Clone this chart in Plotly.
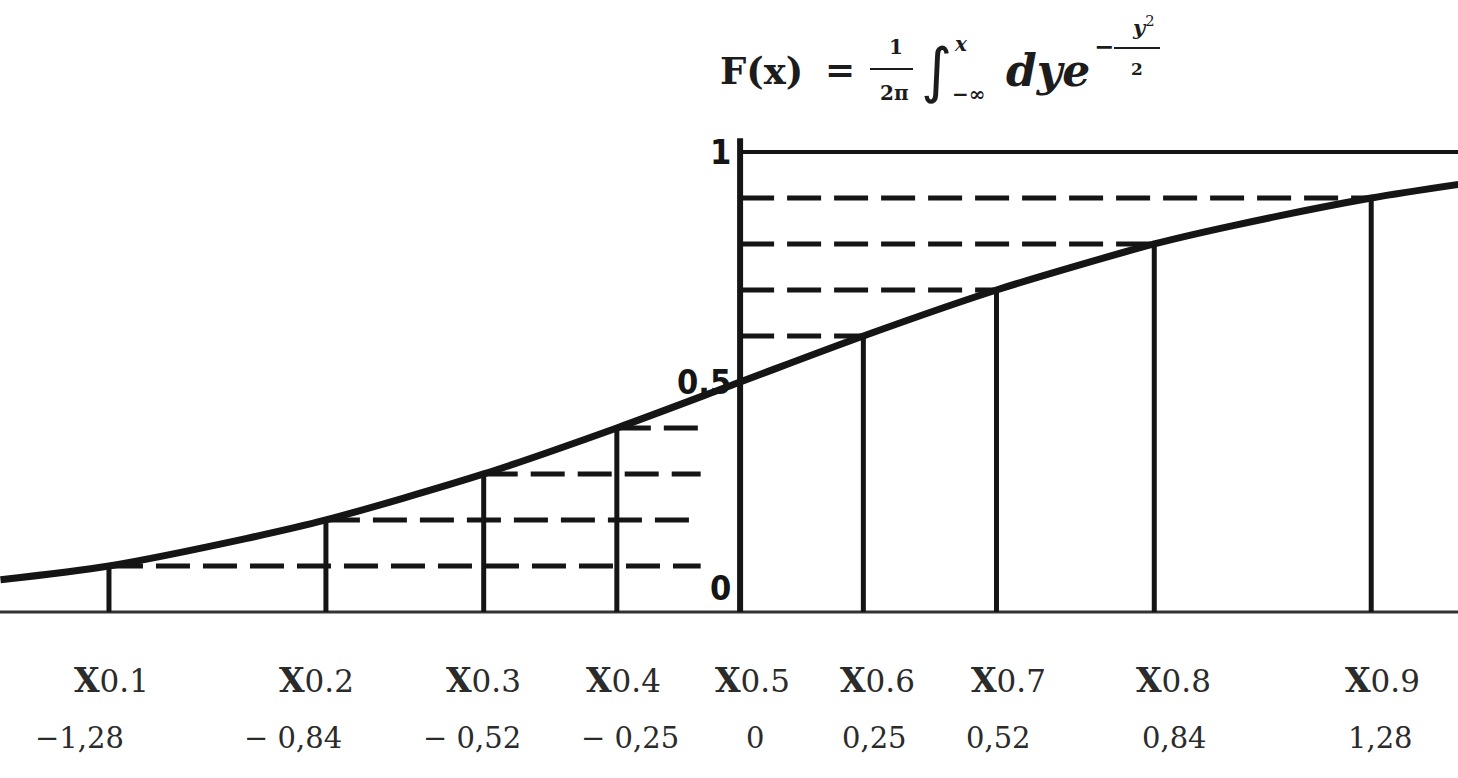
import plotly.graph_objects as go

# Normal distribution function F(x), read at a handful of abscissae
curve_x = [-1.50, -1.28, -1.00, -0.84, -0.52, -0.25, 0.00, 0.25, 0.52, 0.84, 1.00, 1.28, 1.46]
curve_F = [0.07, 0.10, 0.16, 0.20, 0.30, 0.40, 0.50, 0.60, 0.70, 0.80, 0.84, 0.90, 0.93]

# Quantile levels p and the abscissae x_p with F(x_p) = p
levels = [0.1, 0.2, 0.3, 0.4, 0.5, 0.6, 0.7, 0.8, 0.9]
quantiles = [-1.28, -0.84, -0.52, -0.25, 0.0, 0.25, 0.52, 0.84, 1.28]
level_labels = ["0.1", "0.2", "0.3", "0.4", "0.5", "0.6", "0.7", "0.8", "0.9"]
value_labels = ["\u22121,28", "\u2212 0,84", "\u2212 0,52", "\u2212 0,25", "0",
                "0,25", "0,52", "0,84", "1,28"]
y_tick_vals = [0, 0.5, 1]
y_tick_text = ["0", "0,5", "1"]

# ---- layout constants -------------------------------------------------
W, H = 1458, 778
X_RANGE = [-1.501, 1.456]
Y_RANGE = [-0.361, 1.3304]
INK = "#151515"
TEXT = "#2b2b2b"
SERIF = "DejaVu Serif"
DASH = "34px,13px"
# horizontal nudges (px) of the two label rows under each quantile
name_nudge = [3, -9, 0, 7, 12, 14, 12, 19, 11]
value_nudge = [-29, -33, -12, 13, 15, 11, 2, 20, 9]
NAME_ROW_Y = -0.148
VALUE_ROW_Y = -0.274


def px(x):
    return x / W


def py(y):
    return 1 - y / H


fig = go.Figure()

# x axis line
fig.add_trace(go.Scatter(x=X_RANGE, y=[0, 0], mode="lines",
                         line=dict(color="#333", width=3), hoverinfo="skip"))

# vertical segments from the axis up to F(x_p)
vx, vy = [], []
for q, p in zip(quantiles, levels):
    if q == 0:
        continue
    vx += [q, q, None]
    vy += [0, p, None]
fig.add_trace(go.Scatter(x=vx, y=vy, mode="lines",
                         line=dict(color=INK, width=5), hoverinfo="skip"))

# dashed horizontals from the F axis to the curve
dx, dy = [], []
for q, p in zip(quantiles, levels):
    if q == 0:
        continue
    if q < 0:
        dx += [q, -0.08, None]
    else:
        dx += [0, q, None]
    dy += [p, p, None]
fig.add_trace(go.Scatter(x=dx, y=dy, mode="lines",
                         line=dict(color=INK, width=5, dash=DASH), hoverinfo="skip"))

# asymptote F = 1
fig.add_trace(go.Scatter(x=[0, X_RANGE[1]], y=[1, 1], mode="lines",
                         line=dict(color=INK, width=4), hoverinfo="skip"))

# F axis
fig.add_trace(go.Scatter(x=[0, 0], y=[0, 1.03], mode="lines",
                         line=dict(color=INK, width=6), hoverinfo="skip"))

# the distribution curve
fig.add_trace(go.Scatter(x=curve_x, y=curve_F, mode="lines",
                         line=dict(color=INK, width=7, shape="spline", smoothing=0.8),
                         hoverinfo="skip"))

annotations = []

# F axis labels
for v, t in zip(y_tick_vals, y_tick_text):
    annotations.append(dict(
        x=0, y=v, xref="x", yref="y", text="<b>%s</b>" % t, showarrow=False,
        xanchor="right", yanchor="bottom" if v == 0 else "middle",
        xshift=-7, yshift=2 if v == 0 else 0,
        font=dict(family="Liberation Sans Narrow, DejaVu Sans Condensed, sans-serif",
                  size=34, color=INK)))

# quantile names and values under the axis
for q, lab, val, n1, n2 in zip(quantiles, level_labels, value_labels,
                               name_nudge, value_nudge):
    annotations.append(dict(
        x=q, y=NAME_ROW_Y, xref="x", yref="y", showarrow=False,
        xanchor="center", yanchor="middle", xshift=n1,
        text="<b>X</b><span style='font-size:31px'>%s</span>" % lab,
        font=dict(family=SERIF, size=33, color=TEXT)))
    annotations.append(dict(
        x=q, y=VALUE_ROW_Y, xref="x", yref="y", showarrow=False,
        xanchor="center", yanchor="middle", xshift=n2,
        text=val, font=dict(family=SERIF, size=29, color=TEXT)))


# formula F(x) = 1/(2π) ∫ dy e^{-y²/2}
def put(x, y, text, size, anchor="center", family=SERIF):
    annotations.append(dict(
        x=px(x), y=py(y), xref="paper", yref="paper", text=text, showarrow=False,
        xanchor=anchor, yanchor="middle",
        font=dict(family=family, size=size, color="#1c1c1c")))


put(718, 71, "<b>F(x)</b>", 37, anchor="left")
put(840, 69, "<b>=</b>", 36)
put(896, 47, "<b>1</b>", 20)
put(894, 93, "<b>2\u03c0</b>", 20)
put(936, 70, "\u222b", 60, family="DejaVu Sans")
put(961, 44, "<i><b>x</b></i>", 20)
put(968, 94, "<b>\u2212\u221e</b>", 20)
put(1004, 70, "<b><i>dye</i></b>", 44, anchor="left")
put(1104, 47, "<b>\u2212</b>", 24)
put(1143, 26, "<b><i>y</i></b><sup>2</sup>", 21)
put(1137, 69, "<b>2</b>", 17)

shapes = [
    dict(type="line", xref="paper", yref="paper", x0=px(870), x1=px(913),
         y0=py(69), y1=py(69), line=dict(color="#1c1c1c", width=2)),
    dict(type="line", xref="paper", yref="paper", x0=px(1114), x1=px(1160),
         y0=py(48), y1=py(48), line=dict(color="#1c1c1c", width=2)),
]

fig.update_layout(
    width=W, height=H, autosize=False,
    margin=dict(l=0, r=0, t=0, b=0),
    paper_bgcolor="white", plot_bgcolor="white",
    showlegend=False,
    xaxis=dict(range=X_RANGE, visible=False, fixedrange=True),
    yaxis=dict(range=Y_RANGE, visible=False, fixedrange=True),
    annotations=annotations, shapes=shapes,
)

fig.write_html("out.html")
